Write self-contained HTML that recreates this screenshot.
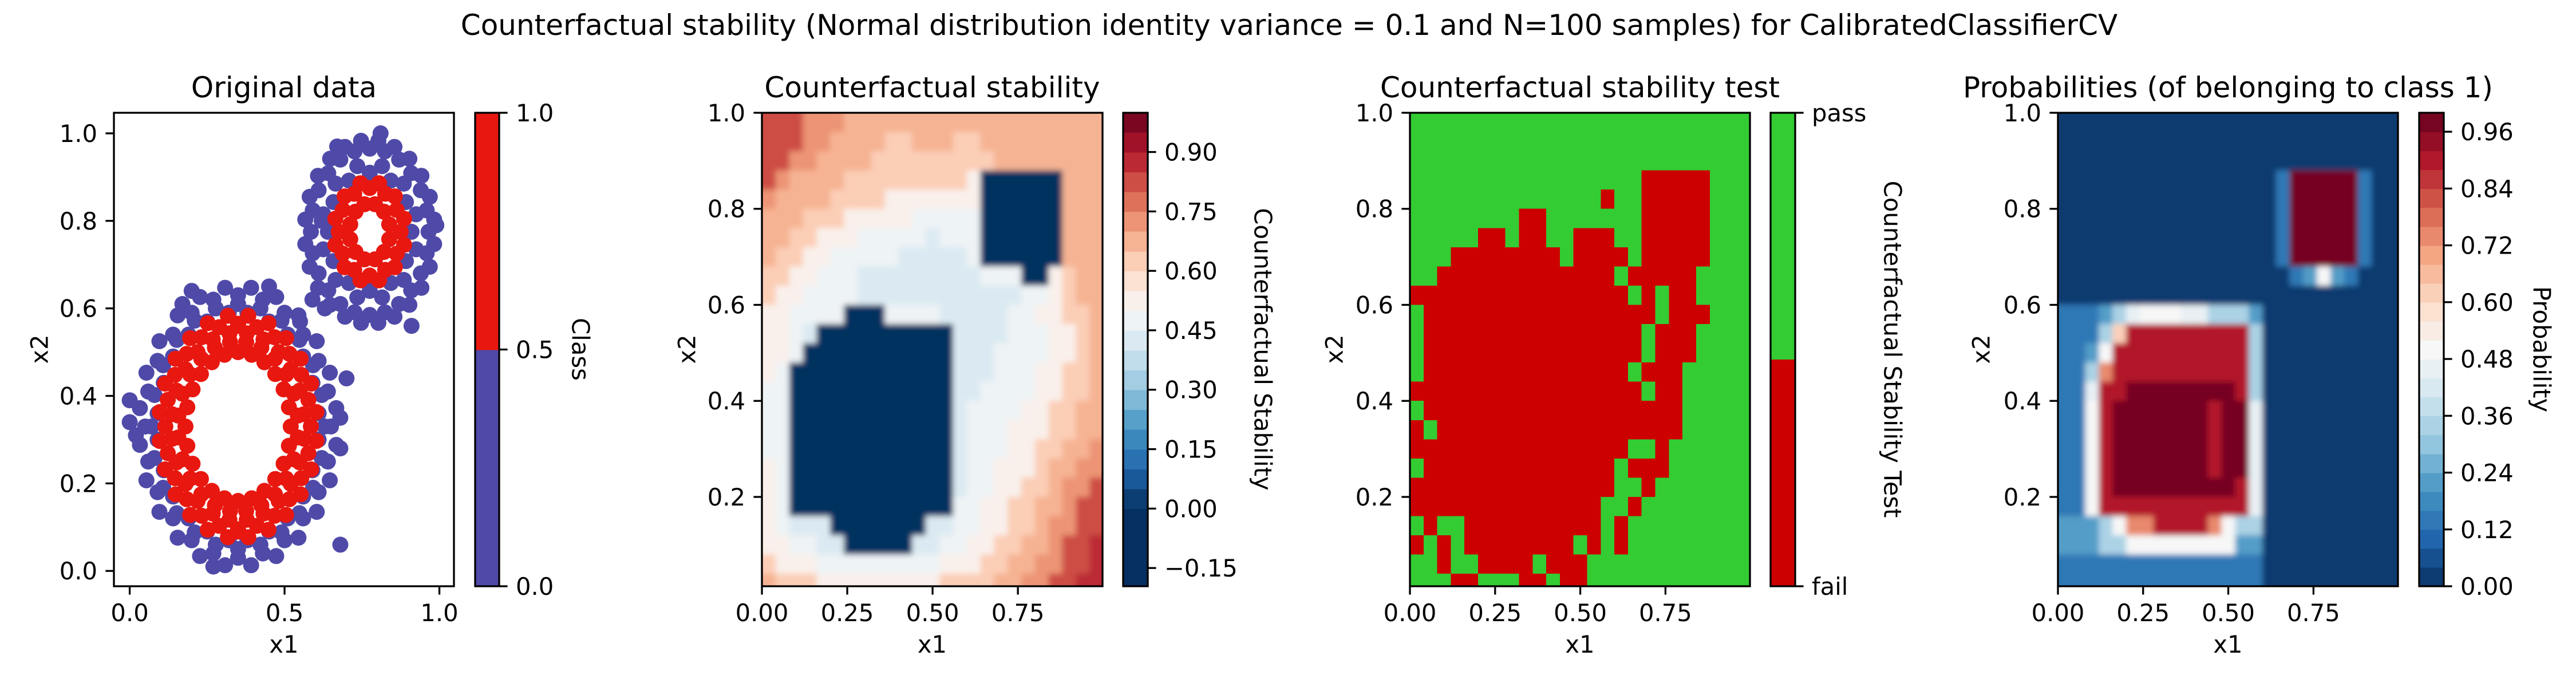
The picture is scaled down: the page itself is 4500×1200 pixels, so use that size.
<!DOCTYPE html>
<html><head><meta charset="utf-8">
<style>
html,body{margin:0;padding:0;background:#fff;width:4500px;height:1200px;overflow:hidden}
svg{display:block;font-family:"DejaVu Sans","Liberation Sans",sans-serif}
</style></head>
<body>
<svg id="fig" width="4500" height="1200" viewBox="0 0 4500 1200" xmlns="http://www.w3.org/2000/svg">
<rect x="0" y="0" width="4500" height="1200" fill="#ffffff"/>
<text x="2252" y="61" font-size="50" text-anchor="middle">Counterfactual stability (Normal distribution identity variance = 0.1 and N=100 samples) for CalibratedClassifierCV</text>
</svg>
<script>
// ---------------- DATA ----------------
const BLUE_X=[.65,.64,.61,.56,.50,.43,.35,.27,.20,.14,.09,.06,.05,.06,.09,.14,.20,.27,.35,.43,.50,.56,.61,.64,
.61,.59,.56,.51,.45,.38,.32,.25,.19,.14,.11,.09,.09,.11,.14,.19,.25,.32,.38,.45,.51,.56,.59,.61,
.667,.646,.604,.545,.473,.392,.308,.227,.155,.096,.054,.033,.033,.054,.096,.155,.227,.308,.392,.473,.545,.604,.646,.667,
.63,.620,.592,.548,.49,.422,.35,.278,.21,.152,.108,.08,.07,.08,.108,.152,.21,.278,.35,.422,.49,.548,.592,.62,
0.0,0.0,.02,.70,.68,.68,.27,.20,.45,.63,.55,.68,.17,
.965,.959,.940,.909,.870,.824,.775,.726,.680,.641,.610,.591,.585,.591,.610,.641,.680,.726,.775,.824,.870,.909,.940,.959,
.983,.969,.942,.903,.855,.803,.747,.695,.647,.608,.581,.567,.567,.581,.608,.647,.695,.747,.803,.855,.903,.942,.969,.983,
.925,.885,.815,.735,.665,.625,.625,.665,.735,.815,.885,.925,
.91,.892,.843,.775,.708,.658,.64,.658,.708,.775,.843,.892,
.81,.91,.59,.99,.62,.67];
const BLUE_Y=[.33,.41,.48,.54,.59,.62,.63,.62,.59,.54,.48,.41,.33,.25,.18,.12,.07,.04,.03,.04,.07,.12,.18,.25,
.36,.43,.49,.54,.57,.59,.59,.57,.54,.49,.43,.36,.30,.23,.17,.12,.09,.07,.07,.09,.12,.17,.23,.30,
.372,.453,.525,.584,.626,.647,.647,.626,.584,.525,.453,.372,.288,.207,.135,.076,.034,.013,.013,.034,.076,.135,.207,.288,
.33,.402,.47,.528,.572,.600,.61,.60,.572,.528,.47,.402,.33,.258,.19,.132,.088,.06,.05,.06,.088,.132,.19,.258,
.39,.34,.31,.44,.28,.06,.01,.64,.65,.60,.57,.35,.61,
.775,.824,.870,.909,.940,.959,.965,.959,.940,.909,.870,.824,.775,.726,.680,.641,.610,.591,.585,.591,.610,.641,.680,.726,
.803,.855,.903,.942,.969,.983,.983,.969,.942,.903,.855,.803,.747,.695,.647,.608,.581,.567,.567,.581,.608,.647,.695,.747,
.815,.885,.925,.925,.885,.815,.735,.665,.625,.625,.665,.735,
.775,.843,.892,.91,.892,.843,.775,.708,.658,.64,.658,.708,
1.0,.56,.62,.79,.80,.97];
const RED_X=[.603,.586,.552,.505,.448,.383,.317,.252,.195,.148,.114,.097,.097,.114,.148,.195,.252,.317,.383,.448,.505,.552,.586,.603,
.585,.577,.554,.516,.468,.411,.35,.289,.232,.184,.146,.123,.115,.123,.146,.184,.232,.289,.35,.411,.468,.516,.554,.577,
.543,.530,.505,.469,.425,.376,.324,.275,.231,.195,.170,.157,.157,.170,.195,.231,.275,.324,.376,.425,.469,.505,.530,.543,
.563,.549,.520,.481,.432,.378,.322,.268,.219,.180,.151,.137,.137,.151,.180,.219,.268,.322,.378,.432,.481,.520,.549,.563,
.52,.514,.497,.470,.435,.394,.35,.306,.265,.230,.203,.186,.18,.186,.203,.230,.265,.306,.35,.394,.435,.470,.497,.514,
.875,.862,.825,.775,.725,.688,.675,.688,.725,.775,.825,.862,
.886,.856,.805,.745,.694,.664,.664,.694,.745,.805,.856,.886,
.838,.821,.792,.758,.729,.712,.712,.729,.758,.792,.821,.838,
.35,.35];
const RED_Y=[.363,.428,.485,.532,.566,.583,.583,.566,.532,.485,.428,.363,.297,.232,.175,.128,.094,.077,.077,.094,.128,.175,.232,.297,
.33,.391,.448,.496,.534,.557,.565,.557,.534,.496,.448,.391,.33,.269,.212,.164,.126,.103,.095,.103,.126,.164,.212,.269,
.355,.405,.449,.485,.510,.523,.523,.510,.485,.449,.405,.355,.305,.255,.211,.175,.150,.137,.137,.150,.175,.211,.255,.305,
.358,.412,.461,.500,.529,.543,.543,.529,.500,.461,.412,.358,.302,.248,.199,.160,.131,.117,.117,.131,.160,.199,.248,.302,
.33,.374,.415,.450,.477,.494,.50,.494,.477,.450,.415,.374,.33,.286,.245,.210,.183,.166,.16,.166,.183,.210,.245,.286,
.775,.825,.862,.875,.862,.825,.775,.725,.688,.675,.688,.725,
.805,.856,.886,.886,.856,.805,.745,.694,.664,.664,.694,.745,
.792,.821,.838,.838,.821,.792,.758,.729,.712,.712,.729,.758,
.09,.56];

// Counterfactual stability grid (25x25, cell 0.04; row 0 = top), char -> value
const STAB_VALUES={'0':-0.18,'1':0.36,'2':0.42,'3':0.48,'4':0.54,'5':0.60,'6':0.66,'7':0.72,'8':0.80,'9':0.88};
const STAB_GRID=[
"8887776666666666666666666",
"8887766665566655666666666",
"8877666655555555566666666",
"8766665555555554000000666",
"7666655554444444000000666",
"6665554444433333000000666",
"6655444333332333000000666",
"6554433333222223000000666",
"5544333222222222333004566",
"5443333222222222222334566",
"4433330003333222223344556",
"4432000000000022223334456",
"4430000000000022233334456",
"4300000000000022233344556",
"3300000000000022333344556",
"3300000000000023333445566",
"3300000000000023334445566",
"3300000000000023334455667",
"4300000000000023344456677",
"4300000000000023344556778",
"4300000000000033445566788",
"4322200000002233445567788",
"4433220000022334455667889",
"5444333333333444556677889",
"6555444444444555566778899"];

// Stability test grid: 1 = fail, 0 = pass
const FAIL_GRID=[
"0000000000000000000000000",
"0000000000000000000000000",
"0000000000000000000000000",
"0000000000000000011111000",
"0000000000000010011111000",
"0000000011000000011111000",
"0000011011001110011111000",
"0001111111101111011111000",
"0011111111111110111110000",
"1111111111111111010110000",
"0111111111111111110111000",
"0111111111111111101110000",
"0111111111111111101110000",
"0111111111111111011100000",
"1111111111111111101100000",
"0111111111111111111100000",
"1011111111111111111100000",
"1111111111111111001000000",
"0111111111111110111000000",
"1111111111111110010000000",
"1111111111111100100000000",
"0100111111111101000000000",
"1010111111110101000000000",
"0010011110111000000000000",
"0001100011011000000000000"];

// Probability grid, char -> probability
const PROB_VALUES={'0':0.01,'1':0.13,'2':0.21,'3':0.33,'4':0.45,'5':0.50,'6':0.60,'7':0.75,'8':0.88,'9':0.98};
const PROB_GRID=[
"0000000000000000000000000",
"0000000000000000000000000",
"0000000000000000000000000",
"0000000000000000199999100",
"0000000000000000199999100",
"0000000000000000199999100",
"0000000000000000199999100",
"0000000000000000199999100",
"0000000000000000012521000",
"0000000000000000000000000",
"1112345554433320000000000",
"1113688888888830000000000",
"1125888888888830000000000",
"1137888888888830000000000",
"1148899999999830000000000",
"1158999999989940000000000",
"1158999999989940000000000",
"1158999999989940000000000",
"1158999999989940000000000",
"1158999999999840000000000",
"1158888888888840000000000",
"2223577888875330000000000",
"2223355555555220000000000",
"1111111111111110000000000",
"1111111111111110000000000"];

const P1_X_TICKS=[0,0.5,1.0];
const P1_X_LABELS=['0.0','0.5','1.0'];
const P1_Y_TICKS=[0,0.2,0.4,0.6,0.8,1.0];
const P1_Y_LABELS=['0.0','0.2','0.4','0.6','0.8','1.0'];
const HM_X_TICKS=[0,0.25,0.5,0.75];
const HM_X_LABELS=['0.00','0.25','0.50','0.75'];
const HM_Y_TICKS=[0.2,0.4,0.6,0.8,1.0];
const HM_Y_LABELS=['0.2','0.4','0.6','0.8','1.0'];
const CB1_TICKS=[0,0.5,1.0];
const CB1_LABELS=['0.0','0.5','1.0'];
const CB2_TICKS=[-0.15,0,0.15,0.30,0.45,0.60,0.75,0.90];
const CB2_LABELS=['\u22120.15','0.00','0.15','0.30','0.45','0.60','0.75','0.90'];
const CB3_TICKS=[0,1];
const CB3_LABELS=['fail','pass'];
const CB3_SPLIT=0.48;
const CB4_TICKS=[0,0.12,0.24,0.36,0.48,0.60,0.72,0.84,0.96];
const CB4_LABELS=['0.00','0.12','0.24','0.36','0.48','0.60','0.72','0.84','0.96'];

// ---------------- RENDER ----------------
const NS='http://www.w3.org/2000/svg';
const svg=document.getElementById('fig');
function mk(tag,attrs,parent){const e=document.createElementNS(NS,tag);for(const k in attrs)e.setAttribute(k,attrs[k]);(parent||svg).appendChild(e);return e;}
const TOP=197,BOT=1024,TICK=14.6,FS=41.7;
const P=[
 {l:199,r:793,x0:-0.051,x1:1.047,y0:-0.035,y1:1.047,cbl:830,cbr:872,ylx:69,cblx:1014},
 {l:1331,r:1926,x0:0,x1:0.998,y0:0.014,y1:1.0,cbl:1962,cbr:2005,ylx:1200,cblx:2206},
 {l:2463,r:3057,x0:0,x1:0.998,y0:0.014,y1:1.0,cbl:3093,cbr:3136,ylx:2331,cblx:3306},
 {l:3595,r:4189,x0:0,x1:0.998,y0:0.014,y1:1.0,cbl:4226,cbr:4269,ylx:3461,cblx:4440}];
function sx(p,v){return p.l+(v-p.x0)/(p.x1-p.x0)*(p.r-p.l);}
function sy(p,v){return BOT-(v-p.y0)/(p.y1-p.y0)*(BOT-TOP);}
const RDBU=['#053061','#2166ac','#4393c3','#92c5de','#d1e5f0','#f7f7f7','#fddbc7','#f4a582','#d6604d','#b2182b','#67001f'];
function hx(h){return [parseInt(h.substr(1,2),16),parseInt(h.substr(3,2),16),parseInt(h.substr(5,2),16)];}
function cmap(t){t=Math.max(0,Math.min(1,t));const f=t*10;const i=Math.min(9,Math.floor(f));const u=f-i;const a=hx(RDBU[i]),b=hx(RDBU[i+1]);
 return 'rgb('+[0,1,2].map(k=>Math.round(a[k]+(b[k]-a[k])*u)).join(',')+')';}
function stabColor(v){const band=Math.floor((v+0.2)/0.05);return cmap(-0.2+(band+0.5)*0.05);}
function probColor(v){const band=Math.min(24,Math.floor(v/0.04));return cmap((band+0.5)*0.04);}

const defs=mk('defs',{});
P.forEach((p,i)=>{const c=mk('clipPath',{id:'clip'+i},defs);mk('rect',{x:p.l,y:TOP,width:p.r-p.l,height:BOT-TOP},c);});
const blurF=mk('filter',{id:'soft',x:'-5%',y:'-5%',width:'110%',height:'110%'},defs);
mk('feGaussianBlur',{stdDeviation:5},blurF);

function drawGrid(pi,grid,colorOf,name,blur){
 const p=P[pi];
 const outer=mk('g',{'clip-path':'url(#clip'+pi+')'});
 
 
 const g=mk('g',blur?{filter:'url(#soft)'}:{'shape-rendering':'crispEdges'},outer);
 const nr=grid.length;
 grid.forEach((row,k)=>{
  let j=0;
  while(j<row.length){
   let e=j;const col=colorOf(row[j]);
   while(e+1<row.length&&colorOf(row[e+1])===col)e++;
   let xa=sx(p,0.04*j),xb=sx(p,0.04*(e+1));
   let ya=sy(p,1-0.04*k),yb=sy(p,1-0.04*(k+1));
   if(j===0)xa-=25;
   if(e===row.length-1)xb+=25;
   if(k===0)ya-=25;
   if(k===nr-1)yb+=25;
   const r=mk('rect',{x:xa.toFixed(1),y:ya.toFixed(1),width:(xb-xa+0.8).toFixed(1),height:(yb-ya+0.8).toFixed(1),fill:col},g);
   
   
   j=e+1;
  }
 });
}

function drawAxes(pi,xt,xl,yt,yl,title){
 const p=P[pi];
 const f=mk('rect',{x:p.l,y:TOP,width:p.r-p.l,height:BOT-TOP,fill:'none',stroke:'#000','stroke-width':3.3});
 
 
 xt.forEach((v,i)=>{const x=sx(p,v);
  const t=mk('line',{x1:x,x2:x,y1:BOT,y2:BOT+TICK,stroke:'#000','stroke-width':3.3});
  
  
  const s=mk('text',{x:x,y:1085,'font-size':FS,'text-anchor':'middle'});s.textContent=xl[i];
  
  
 });
 yt.forEach((v,i)=>{const y=sy(p,v);
  const t=mk('line',{x1:p.l-TICK,x2:p.l,y1:y,y2:y,stroke:'#000','stroke-width':3.3});
  
  
  const s=mk('text',{x:p.l-29,y:y+15,'font-size':FS,'text-anchor':'end'});s.textContent=yl[i];
  
  
 });
 const tt=mk('text',{x:(p.l+p.r)/2,y:170,'font-size':50,'text-anchor':'middle'});tt.textContent=title;
 
 
 const xa=mk('text',{x:(p.l+p.r)/2,y:1140,'font-size':FS,'text-anchor':'middle'});xa.textContent='x1';
 
 
 const ya=mk('text',{x:0,y:0,'font-size':FS,'text-anchor':'middle','dominant-baseline':'central',transform:'translate('+p.ylx+',610) rotate(-90)'});ya.textContent='x2';
 
 
}

function drawColorbar(pi,bands,ticks,labels,vmin,vmax,label){
 const p=P[pi];
 const cy=v=>BOT-(v-vmin)/(vmax-vmin)*(BOT-TOP);
 const g=mk('g',{'shape-rendering':'crispEdges'});
 
 
 bands.forEach(b=>{
  const lo=Math.max(vmin,b[0]),hi=Math.min(vmax,b[1]);if(hi<=lo)return;
  const r=mk('rect',{x:p.cbl,y:cy(hi).toFixed(1),width:p.cbr-p.cbl,height:(cy(lo)-cy(hi)+0.8).toFixed(1),fill:b[2]},g);
  
  
 });
 const f=mk('rect',{x:p.cbl,y:TOP,width:p.cbr-p.cbl,height:BOT-TOP,fill:'none',stroke:'#000','stroke-width':3.3});
 
 
 ticks.forEach((v,i)=>{const y=cy(v);
  const t=mk('line',{x1:p.cbr,x2:p.cbr+TICK,y1:y,y2:y,stroke:'#000','stroke-width':3.3});
  
  
  const s=mk('text',{x:p.cbr+29,y:y+15,'font-size':FS});s.textContent=labels[i];
  
  
 });
 const l=mk('text',{x:0,y:0,'font-size':FS,'text-anchor':'middle','dominant-baseline':'central',transform:'translate('+p.cblx+',610) rotate(90)'});l.textContent=label;
 
 
}

// Panel 1 scatter
(function(){
 const p=P[0];
 const g=mk('g',{'clip-path':'url(#clip0)'});
 
 
 BLUE_X.forEach((x,i)=>{const c=mk('circle',{cx:sx(p,x).toFixed(1),cy:sy(p,BLUE_Y[i]).toFixed(1),r:14,fill:'#4f4aa8'},g);
  
  });
 RED_X.forEach((x,i)=>{const c=mk('circle',{cx:sx(p,x).toFixed(1),cy:sy(p,RED_Y[i]).toFixed(1),r:14,fill:'#e8170f'},g);
  
  });
})();
drawAxes(0,P1_X_TICKS,P1_X_LABELS,P1_Y_TICKS,P1_Y_LABELS,'Original data');
drawColorbar(0,[[0,0.5,'#4f4aa8'],[0.5,1,'#e8170f']],CB1_TICKS,CB1_LABELS,0,1,'Class');

// Panel 2
drawGrid(1,STAB_GRID,ch=>stabColor(STAB_VALUES[ch]),'stability-heatmap',true);
drawAxes(1,HM_X_TICKS,HM_X_LABELS,HM_Y_TICKS,HM_Y_LABELS,'Counterfactual stability');
(function(){const b=[];for(let i=0;i<24;i++){const lo=-0.2+0.05*i;b.push([lo,lo+0.05,stabColor(lo+0.025)]);}
 drawColorbar(1,b,CB2_TICKS,CB2_LABELS,-0.196,0.999,'Counterfactual Stability');})();

// Panel 3
drawGrid(2,FAIL_GRID,ch=>ch==='1'?'#cc0000':'#33cc33','stability-test-map',false);
drawAxes(2,HM_X_TICKS,HM_X_LABELS,HM_Y_TICKS,HM_Y_LABELS,'Counterfactual stability test');
drawColorbar(2,[[0,CB3_SPLIT,'#cc0000'],[CB3_SPLIT,1,'#33cc33']],CB3_TICKS,CB3_LABELS,0,1,'Counterfactual Stability Test');

// Panel 4
drawGrid(3,PROB_GRID,ch=>probColor(PROB_VALUES[ch]),'probability-heatmap',true);
drawAxes(3,HM_X_TICKS,HM_X_LABELS,HM_Y_TICKS,HM_Y_LABELS,'Probabilities (of belonging to class 1)');
(function(){const b=[];for(let i=0;i<25;i++){const lo=0.04*i;b.push([lo,lo+0.04,probColor(lo+0.02)]);}
 drawColorbar(3,b,CB4_TICKS,CB4_LABELS,0,1,'Probability');})();
</script>
</body></html>
